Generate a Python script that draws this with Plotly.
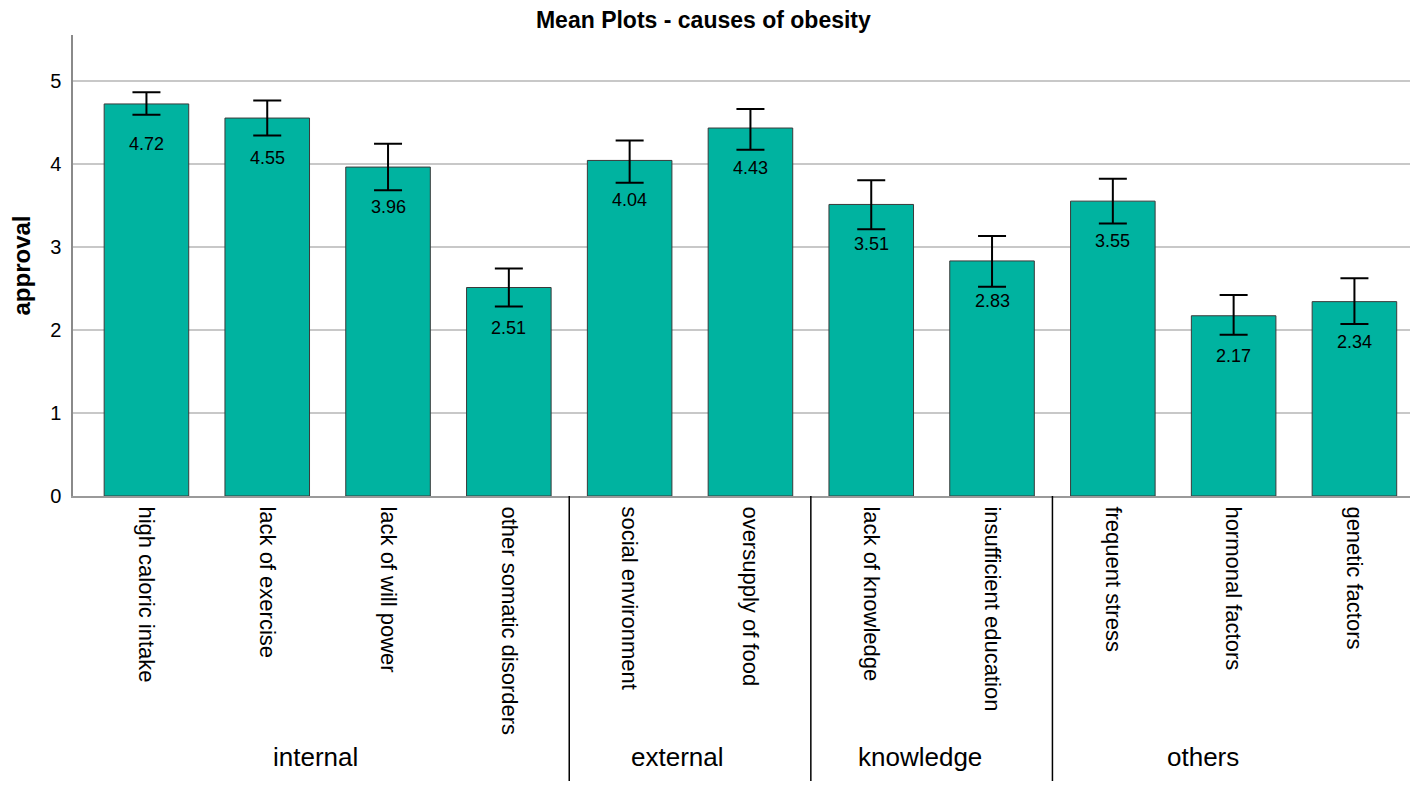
import plotly.graph_objects as go

causes = [
    "high caloric intake", "lack of exercise", "lack of will power", "other somatic disorders",
    "social environment", "oversupply of food",
    "lack of knowledge", "insufficient education",
    "frequent stress", "hormonal factors", "genetic factors",
]
means = [4.72, 4.55, 3.96, 2.51, 4.04, 4.43, 3.51, 2.83, 3.55, 2.17, 2.34]
ci_upper = [4.86, 4.76, 4.24, 2.74, 4.28, 4.66, 3.80, 3.13, 3.82, 2.42, 2.62]
ci_lower = [4.59, 4.34, 3.68, 2.28, 3.77, 4.17, 3.21, 2.52, 3.28, 1.94, 2.07]
groups = ["internal", "external", "knowledge", "others"]
group_sizes = [4, 2, 2, 3]

FONT = "Liberation Sans, Arial, sans-serif"
TEAL = "#00b3a0"

idx = list(range(len(causes)))
err_plus = [u - m for u, m in zip(ci_upper, means)]
err_minus = [m - l for m, l in zip(means, ci_lower)]

fig = go.Figure(go.Bar(
    x=idx,
    y=means,
    width=0.7,
    marker=dict(color=TEAL, line=dict(color="#3a3a3a", width=1)),
    error_y=dict(type="data", symmetric=False, array=err_plus, arrayminus=err_minus,
                 color="black", thickness=2, width=14),
    hoverinfo="x+y",
))

# value labels sit inside the bar, a fixed distance under its top
annotations = [
    dict(x=i, y=m, text=f"{m:.2f}", showarrow=False, yshift=-40,
         font=dict(family=FONT, size=18, color="black"))
    for i, m in zip(idx, means)
]

# group separators and group labels under the category labels
shapes = []
label_x = [1.4, 4.4, 6.4, 8.75]
start = 0
for k, size in enumerate(group_sizes):
    end = start + size
    if end < len(causes):
        shapes.append(dict(type="line", xref="x", yref="paper", x0=end - 0.5, x1=end - 0.5,
                           y0=0, y1=-0.64, line=dict(color="black", width=1.5)))
    annotations.append(dict(x=label_x[k], y=-0.566, xref="x", yref="paper", text=groups[k],
                            showarrow=False, yanchor="middle",
                            font=dict(family=FONT, size=26, color="black")))
    start = end

# page body has an 8px margin, so the figure is a bit smaller than the window
fig.update_layout(
    width=1402,
    height=773,
    autosize=False,
    margin=dict(l=65, r=0, t=27, b=285),
    paper_bgcolor="white",
    plot_bgcolor="white",
    showlegend=False,
    title=dict(text="<b>Mean Plots - causes of obesity</b>", x=0.496, xanchor="center",
               y=0.995, yanchor="top", pad=dict(t=0, b=0),
               font=dict(family=FONT, size=23, color="black")),
    xaxis=dict(
        range=[-0.608, 10.46],
        tickvals=idx,
        ticktext=causes,
        tickangle=90,
        tickfont=dict(family=FONT, size=22, color="black"),
        showgrid=False,
        zeroline=False,
        showline=True,
        linecolor="#9a9a9a",
        linewidth=2,
        ticks="",
        ticklabelstandoff=4,
        automargin=False,
    ),
    yaxis=dict(
        range=[0, 5.55],
        tickvals=[0, 1, 2, 3, 4, 5],
        tickfont=dict(family=FONT, size=20, color="black"),
        showgrid=True,
        gridcolor="#c8c8c8",
        gridwidth=1.5,
        zeroline=False,
        showline=True,
        linecolor="#8a8a8a",
        linewidth=1.5,
        ticks="",
        ticklabelstandoff=6,
        automargin=False,
        title=dict(text="<b>approval</b>", font=dict(family=FONT, size=24, color="black"),
                   standoff=19),
    ),
    annotations=annotations,
    shapes=shapes,
)

fig.write_html("out.html")
